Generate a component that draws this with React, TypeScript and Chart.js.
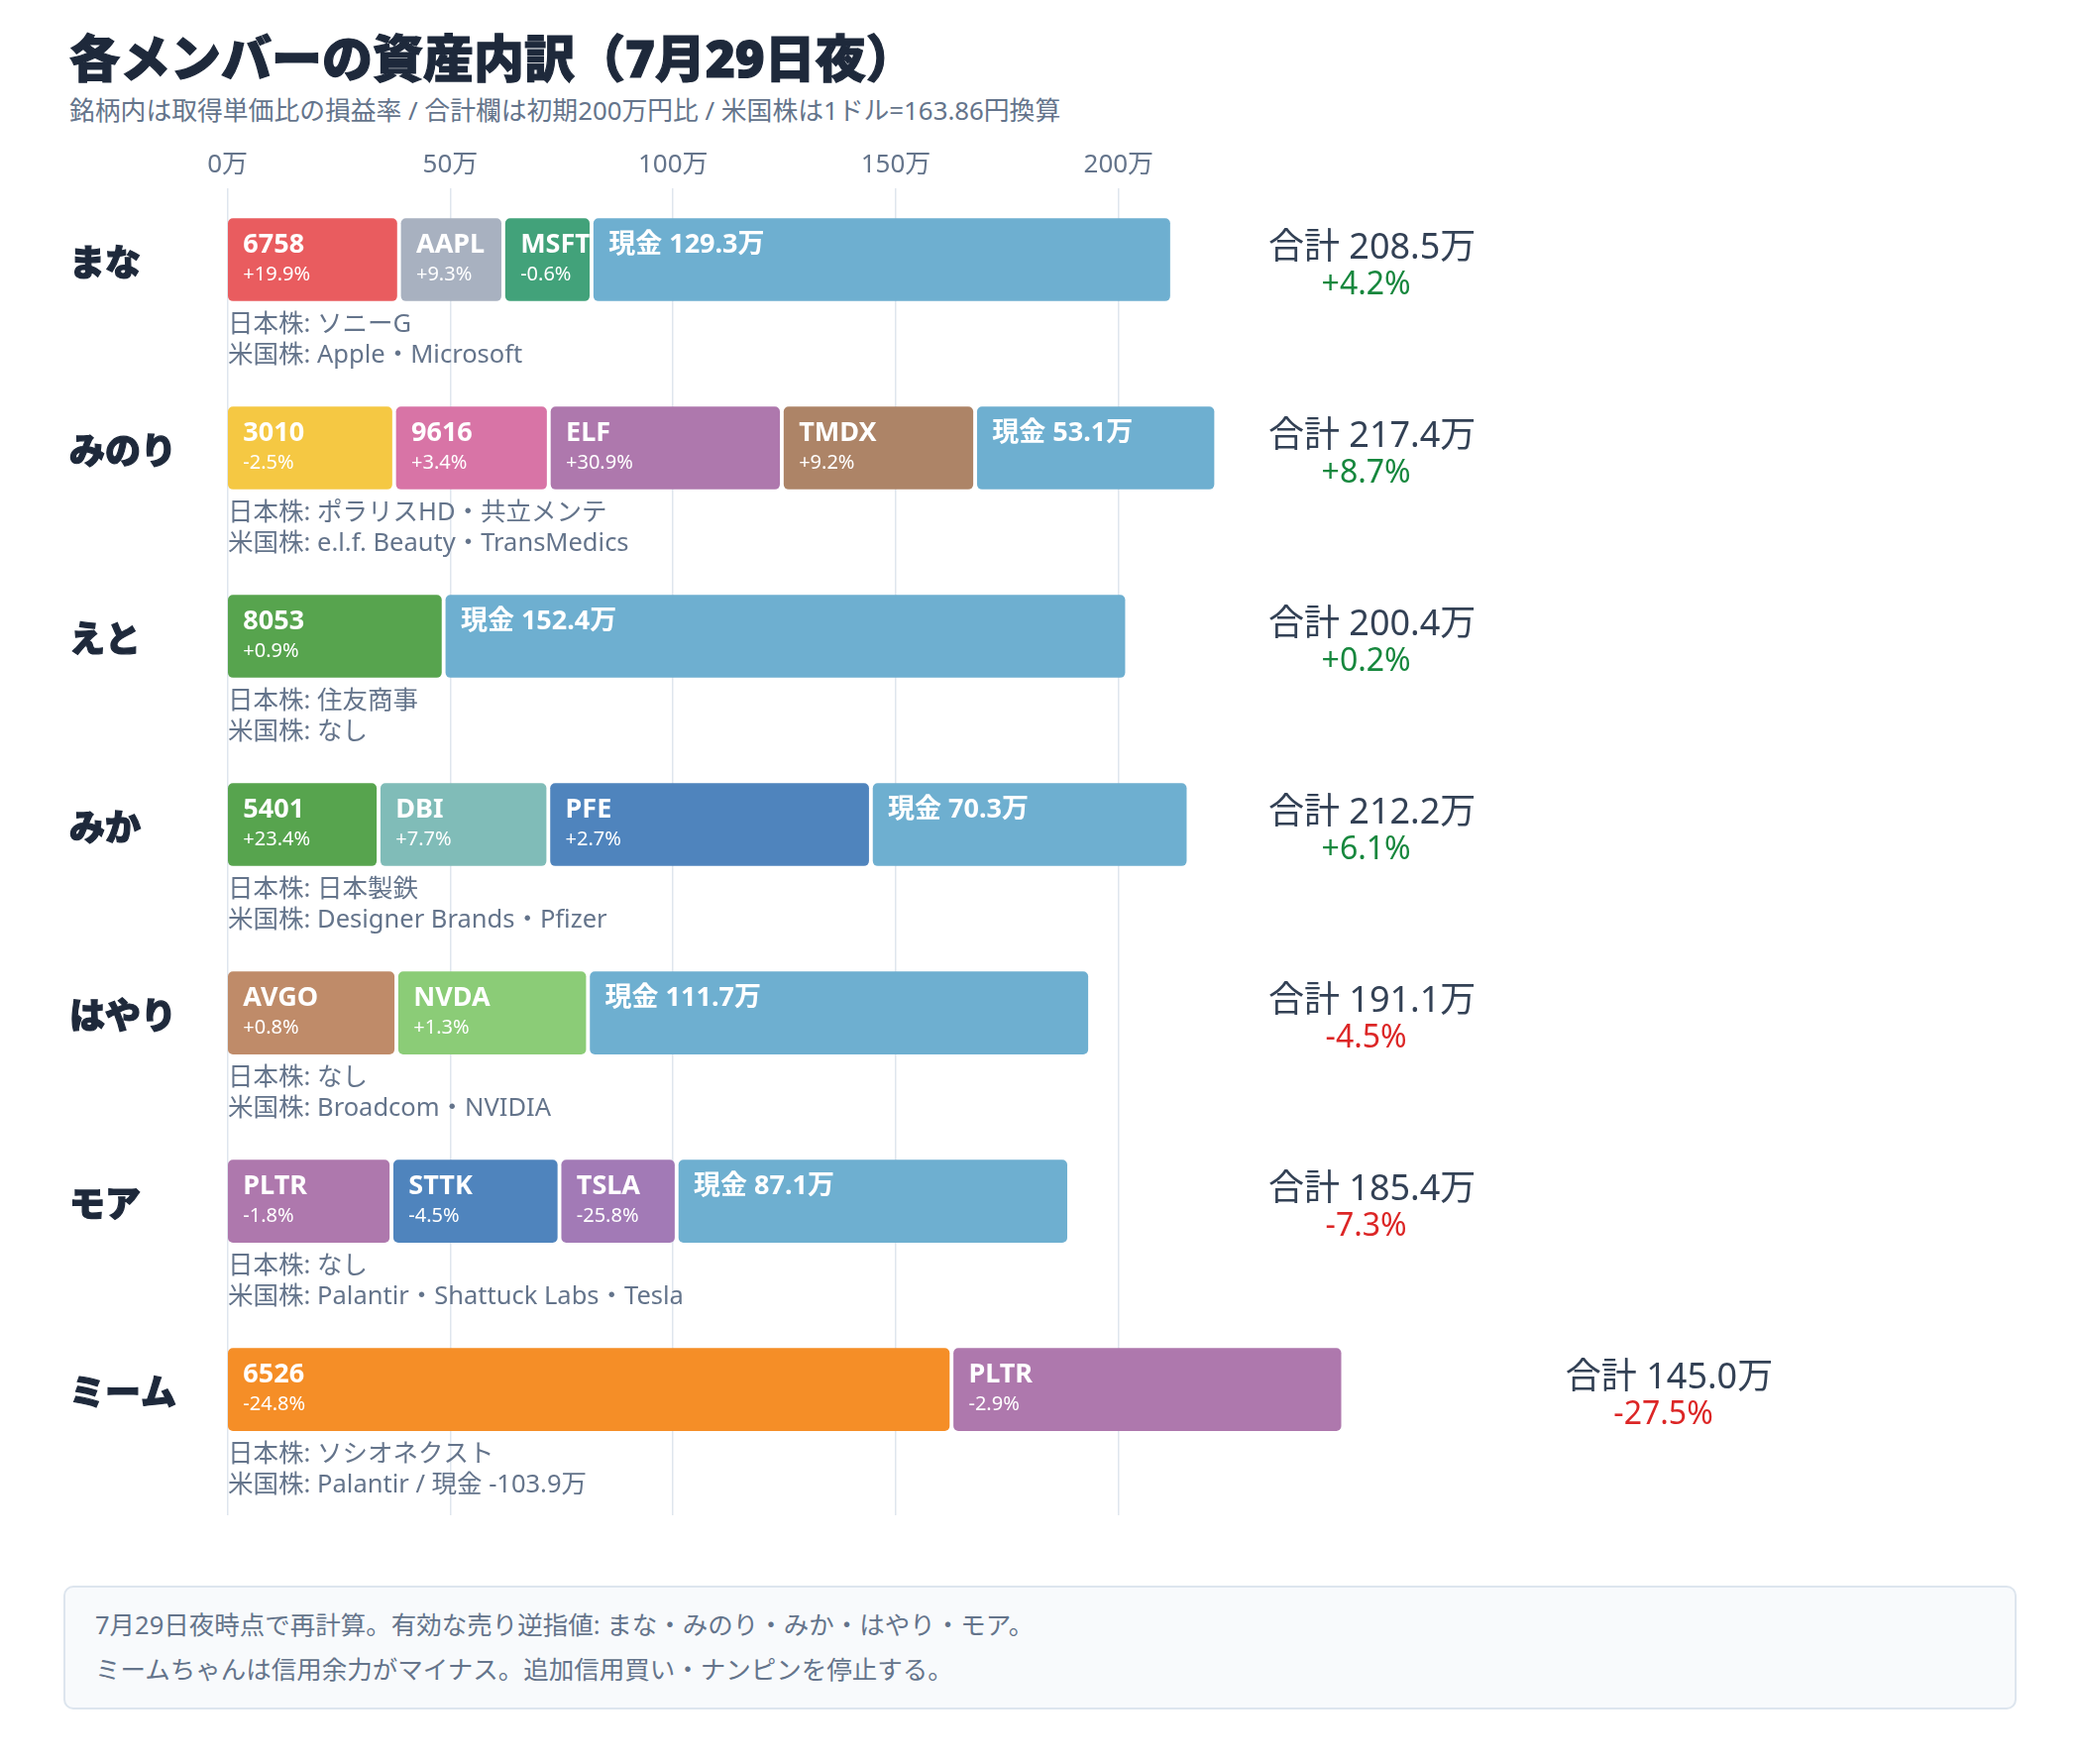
import React, { useEffect, useRef } from 'react';
import { Chart, registerables } from 'chart.js';

Chart.register(...registerables);

const FONT = "'Noto Sans', 'Noto Sans CJK JP', sans-serif";

// ---------------- data ----------------
const members = ['まな', 'みのり', 'えと', 'みか', 'はやり', 'モア', 'ミーム'];
const tickers = [
  ['6758', 'AAPL', 'MSFT'],
  ['3010', '9616', 'ELF', 'TMDX'],
  ['8053'],
  ['5401', 'DBI', 'PFE'],
  ['AVGO', 'NVDA'],
  ['PLTR', 'STTK', 'TSLA'],
  ['6526', 'PLTR'],
];
// 評価額 (万円)
const stockValues = [
  [38.0, 22.4, 18.8],
  [36.9, 33.7, 51.3, 42.4],
  [48.0],
  [33.4, 37.1, 71.4],
  [37.4, 42.0],
  [36.3, 36.7, 25.3],
  [162.0, 86.9],
];
// 取得単価比 損益率 (%)
const stockPct = [
  [19.9, 9.3, -0.6],
  [-2.5, 3.4, 30.9, 9.2],
  [0.9],
  [23.4, 7.7, 2.7],
  [0.8, 1.3],
  [-1.8, -4.5, -25.8],
  [-24.8, -2.9],
];
const cash = [129.3, 53.1, 152.4, 70.3, 111.7, 87.1, -103.9];
const totals = [208.5, 217.4, 200.4, 212.2, 191.1, 185.4, 145.0];
const totalPct = [4.2, 8.7, 0.2, 6.1, -4.5, -7.3, -27.5];
const jpNames = ['ソニーG', 'ポラリスHD・共立メンテ', '住友商事', '日本製鉄', 'なし', 'なし', 'ソシオネクスト'];
const usNames = [
  'Apple・Microsoft',
  'e.l.f. Beauty・TransMedics',
  'なし',
  'Designer Brands・Pfizer',
  'Broadcom・NVIDIA',
  'Palantir・Shattuck Labs・Tesla',
  'Palantir',
];
const xTicks = [0, 50, 100, 150, 200];

const titleText = '各メンバーの資産内訳（7月29日夜）';
const subtitleText = '銘柄内は取得単価比の損益率 / 合計欄は初期200万円比 / 米国株は1ドル=163.86円換算';
const footerLines = [
  '7月29日夜時点で再計算。有効な売り逆指値: まな・みのり・みか・はやり・モア。',
  'ミームちゃんは信用余力がマイナス。追加信用買い・ナンピンを停止する。',
];

// ---------------- styles ----------------
const tickerColors: Record<string, string> = {
  '6758': '#e95c5f',
  AAPL: '#a8b1c0',
  MSFT: '#42a27a',
  '3010': '#f5c843',
  '9616': '#d874a6',
  ELF: '#ae78ad',
  TMDX: '#ad8467',
  '8053': '#57a44e',
  '5401': '#57a44e',
  DBI: '#80bcb8',
  PFE: '#4f84bd',
  AVGO: '#bf8b69',
  NVDA: '#8bcc77',
  PLTR: '#ae78ad',
  STTK: '#4f84bd',
  TSLA: '#a27ab6',
  '6526': '#f58e27',
};
const cashColor = '#6eafd0';
const GAP = 1.0; // visual gap between segments (in 万 units)

const fmtPct = (p: number) => (p >= 0 ? '+' : '') + p.toFixed(1) + '%';

type Seg = { label: string; value: number; pct: number | null; color: string };

const rows: Seg[][] = members.map((_, k) => {
  const segs: Seg[] = tickers[k].map((t, j) => ({
    label: t,
    value: stockValues[k][j],
    pct: stockPct[k][j],
    color: tickerColors[t],
  }));
  if (cash[k] > 0) segs.push({ label: '現金 ' + cash[k].toFixed(1) + '万', value: cash[k], pct: null, color: cashColor });
  return segs;
});

const rowEnd = rows.map((r) => r.reduce((a, b) => a + b.value, 0) + (r.length - 1) * GAP);

const maxSlots = Math.max(...rows.map((r) => r.length));
const datasets = Array.from({ length: maxSlots }, (_, s) => {
  const data: any[] = [];
  const colors: string[] = [];
  const segs: Seg[] = [];
  rows.forEach((r, k) => {
    if (!r[s]) return;
    const start = r.slice(0, s).reduce((a, b) => a + b.value, 0) + s * GAP;
    data.push({ x: [start, start + r[s].value], y: k });
    colors.push(r[s].color);
    segs.push(r[s]);
  });
  return {
    label: 'slot' + s,
    data,
    backgroundColor: colors,
    borderWidth: 0,
    borderSkipped: false,
    borderRadius: 5,
    barThickness: 83,
    grouped: false,
    segs,
  } as any;
});

const labelPlugin = {
  id: 'segLabels',
  afterDatasetsDraw(chart: any) {
    const ctx = chart.ctx as CanvasRenderingContext2D;
    chart.data.datasets.forEach((ds: any, di: number) => {
      const meta = chart.getDatasetMeta(di);
      meta.data.forEach((el: any, j: number) => {
        const seg: Seg = ds.segs[j];
        const { x, base, y, height } = el.getProps(['x', 'base', 'y', 'height'], true);
        const l = Math.min(x, base);
        const r = Math.max(x, base);
        const top = y - height / 2;
        ctx.save();
        ctx.beginPath();
        ctx.rect(l, top, r - l, height);
        ctx.clip();
        ctx.fillStyle = '#ffffff';
        ctx.textAlign = 'left';
        ctx.textBaseline = 'alphabetic';
        ctx.font = `bold 27px ${FONT}`;
        ctx.fillText(seg.label, l + 15, top + 34);
        if (seg.pct !== null) {
          ctx.font = `20px ${FONT}`;
          ctx.fillText(fmtPct(seg.pct), l + 15, top + 62);
        }
        ctx.restore();
      });
    });

    const xs = chart.scales.x;
    const ys = chart.scales.y;
    members.forEach((_, k) => {
      const cy = ys.getPixelForValue(k);
      ctx.save();
      // sub text
      ctx.textAlign = 'left';
      ctx.textBaseline = 'middle';
      ctx.fillStyle = '#64748b';
      ctx.font = `25.5px ${FONT}`;
      const x0 = xs.getPixelForValue(0) + 0.5;
      ctx.fillText('日本株: ' + jpNames[k], x0, cy + 66);
      const us = '米国株: ' + usNames[k] + (cash[k] < 0 ? ' / 現金 ' + cash[k].toFixed(1) + '万' : '');
      ctx.fillText(us, x0, cy + 97);
      // totals
      const cv = cash[k] < 0 ? rowEnd[k] + 73.7 : 256.9;
      const cx = xs.getPixelForValue(cv);
      ctx.textAlign = 'center';
      ctx.fillStyle = '#334155';
      ctx.font = `36px ${FONT}`;
      ctx.fillText('合計 ' + totals[k].toFixed(1) + '万', cx, cy - 11);
      ctx.fillStyle = totalPct[k] >= 0 ? '#16873d' : '#dc2626';
      ctx.font = `32px ${FONT}`;
      ctx.fillText(fmtPct(totalPct[k]), cx - 6, cy + 26);
      ctx.restore();
    });
  },
};

export default function App() {
  const ref = useRef<HTMLCanvasElement>(null);
  useEffect(() => {
    const chart = new Chart(ref.current as HTMLCanvasElement, {
      type: 'bar',
      data: { labels: members, datasets },
      options: {
        indexAxis: 'y',
        animation: false,
        responsive: false,
        devicePixelRatio: 1,
        events: [],
        layout: { padding: { left: 70, right: 386.7, top: 143, bottom: 31 } },
        scales: {
          x: {
            type: 'linear',
            position: 'top',
            min: 0,
            max: 330,
            afterBuildTicks: (s: any) => {
              s.ticks = xTicks.map((v) => ({ value: v }));
            },
            ticks: {
              callback: (v: any) => v + '万',
              font: { family: FONT, size: 26 },
              color: '#64748b',
              padding: 7.9,
            },
            grid: { color: '#dfe6ee', lineWidth: 1.5, drawTicks: false },
            border: { display: false },
          },
          y: {
            type: 'linear',
            reverse: true,
            offset: false,
            min: -0.379,
            max: 6.668,
            afterBuildTicks: (s: any) => {
              s.ticks = members.map((_, i) => ({ value: i }));
            },
            afterFit: (s: any) => {
              s.width = 159.6;
            },
            ticks: {
              callback: (v: any) => members[v],
              font: { family: FONT, size: 36, weight: '900' },
              color: '#1e293b',
              textStrokeColor: '#1e293b',
              textStrokeWidth: 1.2,
              crossAlign: 'far',
              labelOffset: 6,
              padding: 0,
            },
            grid: { display: false },
            border: { display: false },
          },
        },
        plugins: {
          legend: { display: false },
          tooltip: { enabled: false },
        },
      } as any,
      plugins: [labelPlugin],
    });
    return () => chart.destroy();
  }, []);

  return (
    <div
      style={{
        position: 'absolute',
        left: 0,
        top: 0,
        width: 2100,
        height: 1780,
        background: '#ffffff',
        fontFamily: FONT,
        overflow: 'hidden',
      }}
    >
      <div
        style={{
          position: 'absolute',
          left: 70,
          top: 28,
          fontSize: 51,
          lineHeight: '60px',
          fontWeight: 900,
          color: '#1e293b',
          WebkitTextStroke: '1.2px #1e293b',
          whiteSpace: 'nowrap',
        }}
      >
        {titleText}
      </div>
      <div
        style={{
          position: 'absolute',
          left: 70,
          top: 96,
          fontSize: 25.8,
          lineHeight: '30px',
          color: '#64748b',
          whiteSpace: 'nowrap',
        }}
      >
        {subtitleText}
      </div>
      <canvas
        ref={ref}
        width={2100}
        height={1560}
        style={{ position: 'absolute', left: 0, top: 0, width: 2100, height: 1560 }}
      />
      <div
        style={{
          position: 'absolute',
          left: 64,
          top: 1600,
          width: 1971,
          height: 125,
          boxSizing: 'border-box',
          background: '#f8fafc',
          border: '2px solid #dde5ee',
          borderRadius: 10,
          padding: '14.5px 30px',
          color: '#64748b',
          fontSize: 25.5,
          lineHeight: '45px',
          whiteSpace: 'nowrap',
        }}
      >
        <div>{footerLines[0]}</div>
        <div>{footerLines[1]}</div>
      </div>
    </div>
  );
}
